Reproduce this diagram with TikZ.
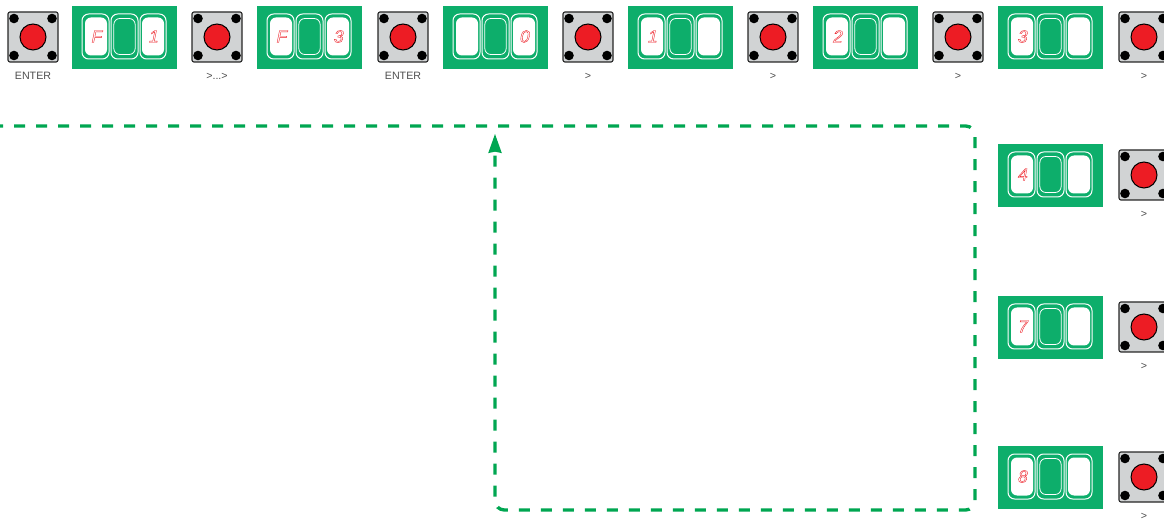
\documentclass[tikz,border=0pt]{standalone}
\usepackage{fontspec}
\setmainfont{Liberation Sans}
\newfontfamily\segfont[FakeSlant=0.2]{Liberation Sans}
\usetikzlibrary{arrows.meta}
\definecolor{dispgreen}{HTML}{0DAE6B}
\definecolor{linegreen}{HTML}{00A651}
\definecolor{btnred}{HTML}{ED1C24}
\definecolor{btngrey}{HTML}{D1D3D4}
\definecolor{labgrey}{HTML}{4D4D4D}
\newcommand{\hollow}[1]{\special{pdf:code q 1 Tr 0.28 w 0.93 0.11 0.14 RG}#1\special{pdf:code Q}}
\tikzset{
  x=0.75pt,y=-0.75pt,
  panel/.style={fill=dispgreen,draw=none,minimum width=78.75pt,minimum height=47.25pt,inner sep=0pt,outer sep=0pt},
  frameouter/.style={draw=white,line width=0.75pt,rounded corners=5pt,minimum width=20pt,minimum height=33.75pt,inner sep=0pt},
  slotwhite/.style={fill=white,draw=none,rounded corners=4.5pt,minimum width=16.5pt,minimum height=28.5pt,inner sep=0pt},
  slotblank/.style={draw=white,line width=0.6pt,rounded corners=4.5pt,minimum width=16pt,minimum height=27pt,inner sep=0pt},
  seg/.style={text=btnred,font=\segfont\fontsize{13}{14}\selectfont,inner sep=0pt},
  btnbody/.style={fill=btngrey,draw=black!85,line width=0.85pt,rounded corners=1.5pt,minimum width=37.5pt,minimum height=37.5pt,inner sep=0pt},
  btncap/.style={circle,fill=btnred,draw=black,line width=0.75pt,minimum size=19.5pt,inner sep=0pt},
  btnpin/.style={circle,fill=black,draw=none,minimum size=7.2pt,inner sep=0pt},
  btnlabel/.style={text=labgrey,font=\fontsize{8}{9}\selectfont,inner sep=0pt,anchor=base},
  dashline/.style={draw=linegreen,line width=2.5pt,dash pattern=on 8.25pt off 8.25pt,rounded corners=7pt},
  tipline/.style={draw=linegreen,line width=1pt,-{Stealth[length=14.25pt,width=10pt,inset=1pt]},fill=linegreen}
}
\newcommand{\dispunit}[5]{% name, cx, cy, left, right
  \node[panel] (#1) at (#2,#3) {};
  \node[slotwhite] (#1l) at (#2-28.5,#3-1) {};
  \node[slotwhite] (#1r) at (#2+28.5,#3-1) {};
  \node[frameouter,minimum width=20.25pt] (#1lf) at (#2-29,#3-1) {};
  \node[frameouter,minimum width=20.25pt] (#1mf) at (#2,#3-1) {};
  \node[frameouter,minimum width=19.5pt] (#1rf) at (#2+28.5,#3-1) {};
  \node[slotblank] (#1m) at (#2,#3-1) {};
  \node[seg] (#1a) at (#2-28.5,#3-1) {\hollow{#4}};
  \node[seg] (#1b) at (#2+28.5,#3-1) {\hollow{#5}};
}
\newcommand{\btnunit}[4]{% name, cx, cy, label
  \node[btnbody] (#1) at (#2,#3) {};
  \node[btnpin] (#1p) at (#2-19,#3-18.5) {};
  \node[btnpin] (#1q) at (#2+19,#3-18.5) {};
  \node[btnpin] (#1r) at (#2-19,#3+18.5) {};
  \node[btnpin] (#1s) at (#2+19,#3+18.5) {};
  \node[btncap] (#1c) at (#2,#3) {};
  \node[btnlabel] (#1t) at (#2,#3+42.5) {#4};
}
\begin{document}
\begin{tikzpicture}
\clip (0,0) rectangle (1164,520);
\btnunit{ba}{33}{37}{ENTER}
\dispunit{da}{124.5}{37.5}{F}{1}
\btnunit{bb}{217}{37}{>...>}
\dispunit{db}{309.5}{37.5}{F}{3}
\btnunit{bc}{403}{37}{ENTER}
\dispunit{dc}{495.5}{37.5}{}{0}
\btnunit{bd}{588}{37}{>}
\dispunit{dd}{680.5}{37.5}{1}{}
\btnunit{be}{773}{37}{>}
\dispunit{de}{865.5}{37.5}{2}{}
\btnunit{bf}{958}{37}{>}
\dispunit{df}{1050.5}{37.5}{3}{}
\btnunit{bg}{1144}{37}{>}
\dispunit{dg}{1050.5}{175.5}{4}{}
\btnunit{bh}{1144}{175}{>}
\dispunit{dh}{1050.5}{327.5}{7}{}
\btnunit{bi}{1144}{327}{>}
\dispunit{di}{1050.5}{477.5}{8}{}
\btnunit{bj}{1144}{477}{>}
\coordinate (loopstart) at (-8,126);
\coordinate (loopne) at (975,126);
\coordinate (loopse) at (975,510);
\coordinate (loopsw) at (495,510);
\coordinate (loopend) at (495,150);
\coordinate (looptip) at (495,134);
\draw[dashline] (loopstart) -- (loopne) -- (loopse) -- (loopsw) -- (loopend);
\draw[tipline] (loopend) -- (looptip);
\end{tikzpicture}
\end{document}
